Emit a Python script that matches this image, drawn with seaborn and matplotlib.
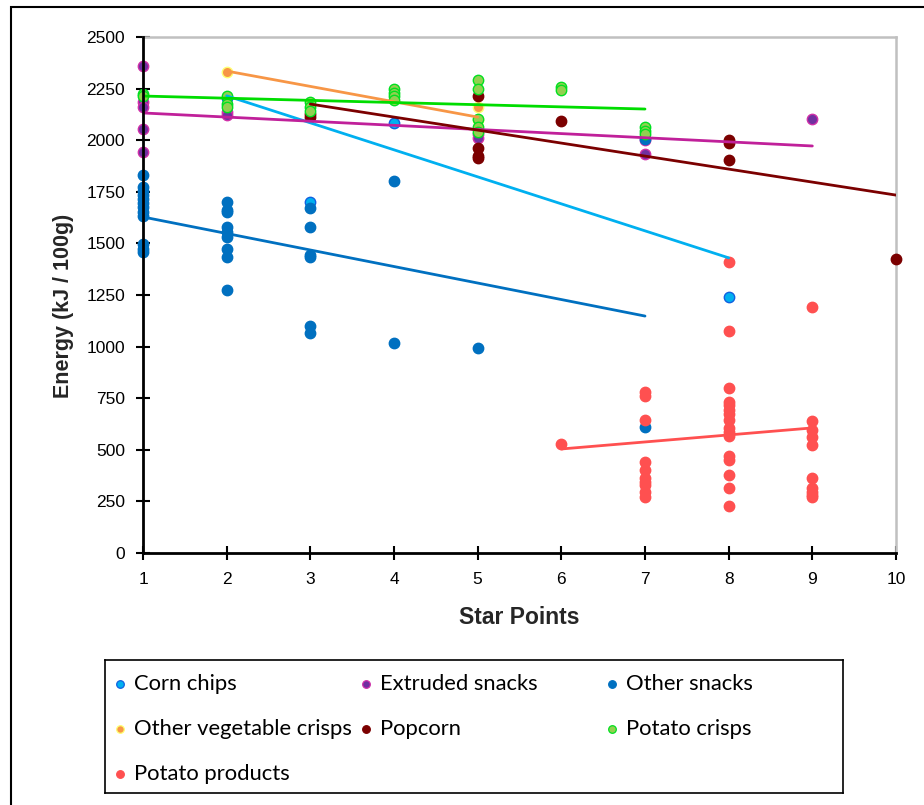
import matplotlib
matplotlib.use("Agg")
import matplotlib.pyplot as plt
import seaborn as sns
import pandas as pd
from matplotlib.patches import Rectangle

# ---------------- data ----------------
categories = ["Corn chips", "Extruded snacks", "Other snacks", "Other vegetable crisps",
              "Popcorn", "Potato crisps", "Potato products"]

corn_x = [2, 3, 4, 8]
corn_y = [2205, 1700, 2085, 1240]

extruded_x = [1, 1, 1, 1, 1, 2, 2, 5, 5, 7, 7, 9]
extruded_y = [2360, 2185, 2162, 2054, 1943, 2137, 2122, 2030, 2012, 2000, 1933, 2103]

other_snacks_x = [1] * 12 + [2] * 9 + [3] * 6 + [4, 4, 5, 7, 7]
other_snacks_y = [1831, 1775, 1755, 1735, 1715, 1695, 1675, 1650, 1635, 1497, 1475, 1458,
                  1700, 1660, 1654, 1581, 1557, 1533, 1473, 1436, 1274,
                  1671, 1579, 1444, 1436, 1100, 1067,
                  1802, 1019, 993, 2006, 610]

other_veg_x = [2, 5, 5]
other_veg_y = [2330, 2160, 2100]

popcorn_x = [3, 3, 5, 5, 5, 5, 6, 8, 8, 8, 10]
popcorn_y = [2125, 2110, 2214, 1962, 1925, 1912, 2093, 2000, 1985, 1904, 1426]

potato_crisps_x = [1, 1, 2, 2, 2, 3, 3, 3, 4, 4, 4, 4, 5, 5, 5, 5, 5, 6, 6, 7, 7, 7]
potato_crisps_y = [2225, 2212, 2214, 2175, 2160, 2187, 2160, 2143, 2248, 2230, 2212, 2195,
                   2292, 2248, 2103, 2066, 2042, 2259, 2243, 2064, 2045, 2030]

potato_products_x = [6] + [7] * 10 + [8] * 16 + [9] * 10
potato_products_y = [528,
                     782, 761, 644, 442, 402, 363, 345, 329, 297, 271,
                     1410, 1076, 799, 733, 715, 695, 675, 644, 605, 585, 565, 470, 450, 378, 316, 229,
                     1192, 640, 596, 564, 523, 365, 315, 295, 283, 273]

# linear trendlines (start / end)
trend_x0 = [2, 1, 1, 2, 3, 1, 6]
trend_y0 = [2215, 2132, 1628, 2335, 2175, 2214, 504]
trend_x1 = [8, 9, 7, 5, 10, 7, 9]
trend_y1 = [1430, 1972, 1148, 2112, 1734, 2151, 606]

x_ticks = list(range(1, 11))
y_ticks = list(range(0, 2501, 250))

# ---------------- styles ----------------
fills = ["#00B0F0", "#7030A0", "#0070C0", "#F79646", "#7B0000", "#92D050", "#FF5050"]
edges = ["#1060E0", "#D030A8", "#0070C0", "#FFFF70", "#7B0000", "#00E020", "#FF5050"]
line_colors = ["#00B0F0", "#C0209A", "#0070C0", "#F79646", "#7B0000", "#00DD00", "#FF5050"]

xs = [corn_x, extruded_x, other_snacks_x, other_veg_x, popcorn_x, potato_crisps_x, potato_products_x]
ys = [corn_y, extruded_y, other_snacks_y, other_veg_y, popcorn_y, potato_crisps_y, potato_products_y]

sns.set_theme(style="white")
plt.rcParams["font.family"] = ["Liberation Sans", "DejaVu Sans"]

W, H = 924, 805
fig = plt.figure(figsize=(W / 100, H / 100), dpi=100)
ax = fig.add_axes([143 / W, 1 - 553 / H, (896 - 143) / W, (553 - 37) / H])

for i, cat in enumerate(categories):
    df = pd.DataFrame({"x": xs[i], "y": ys[i]})
    sns.scatterplot(data=df, x="x", y="y", ax=ax, s=56, color=fills[i],
                    edgecolor=edges[i], linewidth=1.0, zorder=3, clip_on=False, legend=False)

for i, cat in enumerate(categories):
    tdf = pd.DataFrame({"x": [trend_x0[i], trend_x1[i]], "y": [trend_y0[i], trend_y1[i]]})
    sns.lineplot(data=tdf, x="x", y="y", ax=ax, color=line_colors[i], linewidth=2.0,
                 zorder=4, legend=False)

ax.set_xlim(1, 10)
ax.set_ylim(0, 2500)
ax.set_xticks(x_ticks)
ax.set_yticks(y_ticks)
ax.set_xticklabels([str(v) for v in x_ticks])
ax.set_yticklabels([str(v) for v in y_ticks])
ax.tick_params(axis="both", direction="inout", length=10, width=1.5, color="black",
               labelsize=12.5, labelcolor="black")
ax.tick_params(axis="y", pad=8)
ax.tick_params(axis="x", pad=9)
ax.tick_params(left=True, bottom=True)
for s in ["left", "bottom"]:
    ax.spines[s].set_color("black")
    ax.spines[s].set_linewidth(2.0)
    ax.spines[s].set_zorder(5)
for s in ["top", "right"]:
    ax.spines[s].set_color("#C0C0C0")
    ax.spines[s].set_linewidth(1.8)
ax.set_xlabel("Star Points", fontsize=16.5, fontweight="bold", labelpad=13)
ax.set_ylabel("Energy (kJ / 100g)", fontsize=15.5, fontweight="bold")
ax.yaxis.set_label_coords(-0.092, 0.479)

# outer chart frame (partially visible)
fig.add_artist(Rectangle((11 / W, -0.5), 2, 1.5 - 7 / H, transform=fig.transFigure,
                         fill=False, edgecolor="black", linewidth=1.5))

# legend panel
lx0, ly0, lx1, ly1 = 105, 660, 843, 793
lax = fig.add_axes([lx0 / W, 1 - ly1 / H, (lx1 - lx0) / W, (ly1 - ly0) / H])
lax.set_xlim(0, lx1 - lx0)
lax.set_ylim(ly1 - ly0, 0)
lax.set_xticks([])
lax.set_yticks([])
for s in lax.spines.values():
    s.set_color("black")
    s.set_linewidth(1.2)
col_x = [15, 261, 507]
row_y = [24, 69, 114]
for i, cat in enumerate(categories):
    r, c = divmod(i, 3)
    lax.scatter([col_x[c]], [row_y[r]], s=30, color=fills[i], edgecolor=edges[i], linewidth=0.9)
    lax.text(col_x[c] + 14, row_y[r], cat, fontsize=15.8, va="center", ha="left",
             family=["Lato", "DejaVu Sans"], color="black")

fig.savefig("out.png", dpi=100)
